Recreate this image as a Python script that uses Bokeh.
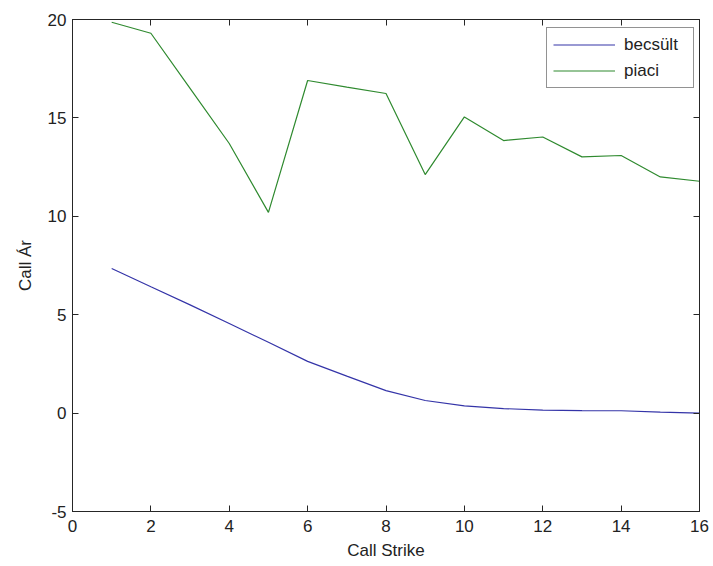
from bokeh.plotting import figure
from bokeh.models import Range1d, FixedTicker, LinearAxis, Legend, LegendItem
from bokeh.embed import file_html
from bokeh.resources import INLINE

strike = [1, 2, 3, 4, 5, 6, 7, 8, 9, 10, 11, 12, 13, 14, 15, 16]
becsult = [7.35, 6.42, 5.5, 4.55, 3.6, 2.63, 1.88, 1.14, 0.64, 0.37, 0.23, 0.15, 0.13, 0.12, 0.05, 0.0]
piaci = [19.86, 19.3, 16.5, 13.7, 10.2, 16.9, 16.56, 16.24, 12.12, 15.05, 13.85, 14.03, 13.02, 13.09, 12.0, 11.78]

x_ticks = [0, 2, 4, 6, 8, 10, 12, 14, 16]
y_ticks = [-5, 0, 5, 10, 15, 20]
y_tick_labels = {-5: "-5", 0: "0", 5: "5", 10: "10", 15: "15", 20: "20"}

FONT = "Liberation Sans"
FS = "17px"
AX = "#262626"

p = figure(width=713, height=566, output_backend="svg", toolbar_location=None,
           x_range=Range1d(0, 16), y_range=Range1d(-5, 20),
           min_border_left=72, min_border_right=14, min_border_top=19, min_border_bottom=55)
p.background_fill_color = "white"
p.border_fill_color = "white"
p.outline_line_color = AX
p.outline_line_width = 1
p.xgrid.visible = False
p.ygrid.visible = False

r1 = p.line(strike, becsult, line_color="#3434a8", line_width=1.2)
r2 = p.line(strike, piaci, line_color="#2f8a2f", line_width=1.2)

def style(ax, labels=True):
    ax.axis_line_color = AX
    ax.major_tick_line_color = AX
    ax.major_tick_in = 6
    ax.major_tick_out = 0
    ax.minor_tick_line_color = None
    ax.major_label_text_font = FONT
    ax.major_label_text_font_size = FS
    ax.major_label_text_color = "#222222"
    ax.axis_label_text_font = FONT
    ax.axis_label_text_font_size = FS
    ax.axis_label_text_font_style = "normal"
    ax.axis_label_text_color = "#222222"
    if not labels:
        ax.major_label_text_font_size = "0px"
        ax.major_label_text_alpha = 0

xa = p.xaxis[0]
xa.ticker = FixedTicker(ticks=x_ticks)
xa.axis_label = "Call Strike"
style(xa)
xa.major_label_standoff = 8
xa.axis_label_standoff = 6

ya = p.yaxis[0]
ya.ticker = FixedTicker(ticks=y_ticks)
ya.major_label_overrides = y_tick_labels
ya.axis_label = "Call Ár"
style(ya)
ya.major_label_standoff = 6
ya.axis_label_standoff = 10

top = LinearAxis(ticker=FixedTicker(ticks=x_ticks))
style(top, labels=False)
top.major_label_standoff = 0
p.add_layout(top, "above")

right = LinearAxis(ticker=FixedTicker(ticks=y_ticks))
style(right, labels=False)
right.major_label_standoff = 0
p.add_layout(right, "right")

legend = Legend(items=[LegendItem(label="becsült", renderers=[r1]),
                       LegendItem(label="piaci", renderers=[r2])],
                location=(474, 423), margin=0, padding=6, spacing=5,
                glyph_width=62, glyph_height=21, label_height=21, label_width=63,
                label_standoff=9,
                label_text_font=FONT, label_text_font_size=FS, label_text_color="#222222",
                border_line_color=AX, border_line_width=1, background_fill_color="white",
                background_fill_alpha=1)
p.add_layout(legend, "center")

open("out.html", "w").write(file_html(p, INLINE))
